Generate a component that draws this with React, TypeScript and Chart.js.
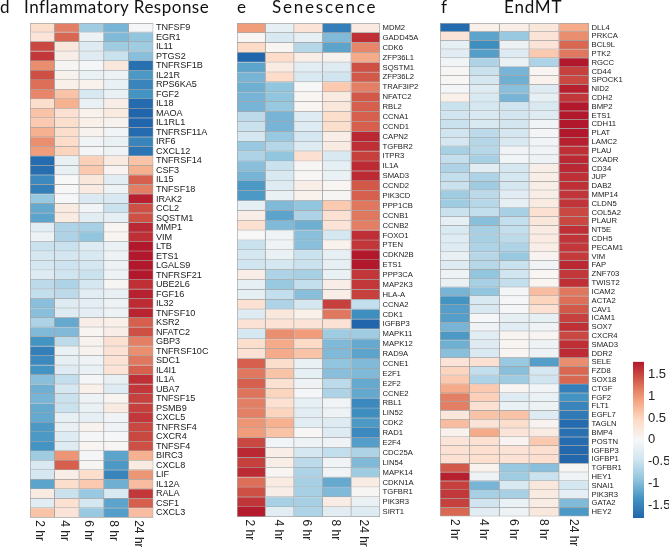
import React, { useEffect, useRef } from "react";
import { Chart, registerables } from "chart.js";

Chart.register(...registerables);

const timePoints = ["2 hr", "4 hr", "6 hr", "8 hr", "24 hr"];
const colorTicks = [1.5, 1, 0.5, 0, -0.5, -1, -1.5];
const colorRange = [-1.8, 1.8];
const paletteStops = ["#2166AC", "#4393C3", "#92C5DE", "#D1E5F0", "#F7F7F7", "#FDDBC7", "#F4A582", "#D6604D", "#B2182B"];

const inflammatoryGenes = ["TNFSF9","EGR1","IL11","PTGS2","TNFRSF1B","IL21R","RPS6KA5","FGF2","IL18","MAOA","IL1RL1","TNFRSF11A","IRF6","CXCL12","TNFRSF14","CSF3","IL15","TNFSF18","IRAK2","CCL2","SQSTM1","MMP1","VIM","LTB","ETS1","LGALS9","TNFRSF21","UBE2L6","FGF16","IL32","TNFSF10","KSR2","NFATC2","GBP3","TNFRSF10C","SDC1","IL4I1","IL1A","UBA7","TNFSF15","PSMB9","CXCL5","TNFRSF4","CXCR4","TNFSF4","BIRC3","CXCL8","LIF","IL12A","RALA","CSF1","CXCL3"];
const inflammatoryValues = [
[0.4,1.15,-0.8,-1.05,-0.03],[0.3,1.3,-0.12,-1,-0.9],[1.5,0.25,-0.3,-0.8,-0.8],[1.6,0.15,-0.3,-0.5,-0.95],
[1.05,0.03,-0.05,0.25,-1.7],[1.45,0.1,-0.15,-0.12,-1.3],[1.25,0.12,0.1,-0.15,-1.5],[1.1,0.65,-0.35,-0.15,-1.35],
[0.4,0.8,-0.15,0.15,-1.75],[0.65,0.35,0.1,0.2,-1.8],[0.6,0.4,0.12,0.08,-1.8],[0.8,0.4,0.08,-0.07,-1.75],
[1.05,0.42,-0.08,-0.15,-1.5],[0.95,0.5,-0.05,-0.1,-1.65],[-1.75,-0.18,0.55,0.2,0.65],[-1.72,-0.18,0.6,0.07,0.8],
[-1.45,0,0.25,-0.25,1.35],[-1.55,0,0.2,-0.12,1.15],[-0.85,-0.03,-0.33,-0.35,1.75],[-1.15,0.2,-0.08,-0.5,1.45],
[-1.2,0.2,-0.25,-0.2,1.45],[-0.25,-0.7,-0.75,0.05,1.7],[-0.12,-0.7,-0.9,0.05,1.65],[-0.5,-0.5,-0.3,-0.15,1.8],
[-0.4,-0.42,-0.35,-0.12,1.8],[-0.4,-0.48,-0.4,-0.12,1.8],[-0.3,-0.45,-0.5,-0.12,1.8],[-0.6,-0.7,-0.4,0.03,1.65],
[-0.55,-0.6,-0.25,-0.18,1.75],[-0.95,-0.3,-0.22,-0.12,1.68],[-0.95,-0.3,-0.22,-0.12,1.72],[-0.7,-1.15,0.15,0.12,1.35],
[-1,-1,0.05,0.15,1.45],[-1.35,-0.6,0.08,0.35,1.15],[-1.55,-0.15,0.08,0.33,1.05],[-1.45,-0.2,-0.1,0.33,1.2],
[-1.35,-0.3,-0.15,0.3,1.35],[-0.95,-0.55,-0.05,-0.18,1.65],[-1.1,-0.4,0.12,-0.3,1.6],[-1.05,-0.5,-0.12,0.05,1.55],
[-1.15,-0.5,-0.15,0.2,1.55],[-1.15,-0.2,-0.2,-0.1,1.6],[-1.3,-0.18,0.08,-0.1,1.5],[-1.3,-0.3,-0.05,-0.03,1.5],
[-1.35,-0.3,0.05,0.03,1.45],[-0.8,1,-0.05,-1.2,0.8],[-0.35,1.35,0.03,-1.3,0.2],[-0.4,0.15,0.4,-1.5,1],
[-1.2,0.4,0.6,-1.1,0.7],[0.2,-0.5,-0.85,-0.35,1.6],[-0.25,0.35,-0.4,-1.2,1.35],[0.65,0.3,-0.85,-1.25,0.7],
];

const senescenceGenes = ["MDM2","GADD45A","CDK6","ZFP36L1","SQSTM1","ZFP36L2","TRAF3IP2","NFATC2","RBL2","CCNA1","CCND1","CAPN2","TGFBR2","ITPR3","IL1A","SMAD3","CCND2","PIK3CD","PPP1CB","CCNB1","CCNB2","FOXO1","PTEN","CDKN2B","ETS1","PPP3CA","MAP2K3","HLA-A","CCNA2","CDK1","IGFBP3","MAPK11","MAPK12","RAD9A","CCNE1","E2F1","E2F2","CCNE2","RBL1","LIN52","CDK2","RAD1","E2F4","CDC25A","LIN54","MAPK14","CDKN1A","TGFBR1","PIK3R3","SIRT1"];
const senescenceValues = [
[0.95,-0.2,0.3,-1.55,0.22],[0.05,-0.35,-0.2,-1,1.65],[0.45,0.05,-0.65,-1.2,1.1],[-1.8,0.42,0.15,0.08,0.85],
[-1.2,0.2,-0.25,-0.3,1.45],[-1.05,0.42,-0.35,-0.45,1.4],[-1.1,-0.9,0,0.6,1.15],[-1.05,-0.9,0.05,0.2,1.4],
[-1.05,-0.85,0.05,0.25,1.35],[-0.6,-1.05,-0.3,0.4,1.35],[-0.5,-1.05,-0.3,0.4,1.35],[-0.4,-0.85,-0.4,0.15,1.7],
[-0.85,-0.65,-0.3,0.2,1.65],[-0.7,-0.9,0.35,-0.35,1.55],[-0.95,-0.5,0.03,-0.2,1.68],[-1.05,-0.35,0.02,-0.15,1.68],
[-1.3,-0.3,0.15,0.05,1.4],[-1.3,-0.15,0.1,0.03,1.35],[-0.2,-1,-0.9,0.6,1.2],[0.15,-1.2,-0.7,0.35,1.2],
[0.35,-1,-1.1,0.3,1.15],[0,-0.1,-0.95,-0.4,1.65],[-0.5,-0.1,-0.95,0.1,1.6],[-0.4,-0.15,-0.5,-0.2,1.8],
[-0.45,-0.4,-0.5,-0.2,1.8],[0.15,-0.7,-0.75,-0.15,1.6],[-0.2,-0.85,-0.55,0.15,1.6],[-0.2,-0.55,-0.95,0.15,1.55],
[0.35,-0.7,-0.4,1.55,-0.55],[-0.3,0.25,0.12,1.2,-1.4],[0.33,0.33,0.3,0.33,-1.8],[-0.4,1.05,0.95,-0.8,-0.8],
[0.4,0.85,0.45,-1,-1.15],[0.33,0.85,0.65,-1,-1.2],[1.35,0.4,-0.15,-0.9,-1],[1.2,0.65,-0.2,-0.95,-1],
[1.35,0.35,-0.1,-0.6,-1.15],[1.22,0.5,-0.05,-0.7,-1.15],[1.15,0.35,-0.2,-0.07,-1.45],[1.15,0.5,-0.25,-0.12,-1.4],
[1,0.8,-0.25,-0.3,-1.3],[0.95,0.65,0.02,-0.3,-1.45],[1.5,-0.07,-0.12,-0.1,-1.25],[1.7,0.15,-0.4,-0.55,-0.7],
[1.55,0.15,-0.6,-0.07,-1],[1.68,0.05,-0.7,-0.07,-0.8],[1.25,0.2,-0.75,-1.15,0.18],[1.45,0.15,-0.75,-1,0.03],
[1.62,-0.75,-0.75,0.18,-0.15],[1.78,-0.25,-0.7,-0.25,-0.3],
];

const endmtGenes = ["DLL4","PRKCA","BCL9L","PTK2","RGCC","CD44","SPOCK1","NID2","CDH2","BMP2","ETS1","CDH11","PLAT","LAMC2","PLAU","CXADR","CD34","JUP","DAB2","MMP14","CLDN5","COL5A2","PLAUR","NT5E","CDH5","PECAM1","VIM","FAP","ZNF703","TWIST2","ICAM2","ACTA2","CAV1","ICAM1","SOX7","CXCR4","SMAD3","DDR2","SELE","FZD8","SOX18","CTGF","FGF2","FLT1","EGFL7","TAGLN","BMP4","POSTN","IGFBP3","IGFBP1","TGFBR1","HEY1","SNAI1","PIK3R3","GATA2","HEY2"];
const endmtValues = [
[-1.75,0.12,0.15,0.25,0.85],[0.3,-1.2,-0.85,0.3,1.05],[-0.2,-1.4,-0.12,0.3,1.3],[-0.25,-1.25,-0.3,0.6,1.2],
[-0.07,-0.7,-0.15,-0.7,1.8],[0.03,-0.5,-1.05,0.05,1.55],[0.02,-0.4,-1.1,0.1,1.5],[-0.05,-0.3,-0.95,-0.3,1.75],
[0.12,-0.35,-1.05,-0.2,1.6],[-0.5,-0.4,-0.45,-0.35,1.8],[-0.45,-0.35,-0.42,-0.3,1.8],[-0.5,-0.35,-0.42,-0.07,1.8],
[-0.45,-0.6,-0.4,-0.05,1.8],[-0.4,-0.65,-0.35,-0.08,1.75],[-0.75,-0.65,-0.1,-0.1,1.65],[-0.55,-0.75,-0.08,-0.12,1.7],
[-0.7,-0.25,-0.4,0.15,1.7],[-0.55,-0.7,-0.4,0.15,1.65],[-0.5,-0.8,-0.4,0.15,1.65],[-0.8,-0.6,-0.25,0.15,1.62],
[-0.8,-0.65,-0.2,0.2,1.62],[-0.5,-0.55,-0.75,0.35,1.5],[-0.2,-0.95,-0.55,0.25,1.5],[-0.35,-0.75,-0.55,0.2,1.65],
[-0.3,-0.75,-0.6,0.2,1.62],[-0.3,-0.7,-0.7,0.15,1.6],[-0.18,-0.65,-0.85,0.07,1.58],[-0.3,-0.65,-0.5,-0.07,1.7],
[-0.12,-0.9,-0.45,0.04,1.6],[-0.15,-0.75,-0.55,0.05,1.65],[-1.05,-0.9,-0.05,0.7,1.2],[-1.35,-0.35,-0.05,0.5,1.25],
[-1.25,-0.35,-0.05,0.35,1.4],[-1.25,-0.03,-0.2,-0.2,1.55],[-1.05,-0.1,-0.25,-0.1,1.65],[-1.3,-0.25,0.05,0.05,1.5],
[-1.1,-0.3,0.05,-0.12,1.65],[-0.95,-0.35,0.05,-0.12,1.68],[0.3,0.35,-0.85,-1.25,1.05],[0.5,-0.55,-0.95,-0.4,1.3],
[0.6,-0.7,-0.8,-0.45,1.3],[0.85,0.6,0.05,-0.08,-1.55],[1.15,0.55,-0.3,-0.15,-1.35],[1.15,0.35,-0.15,-0.12,-1.5],
[0.25,0.65,0.65,-0.3,-1.6],[0.7,0.3,0.4,0.07,-1.75],[0.1,0.85,0.3,0.2,-1.7],[0.3,0.35,0.07,0.6,-1.75],
[0.35,0.38,0.33,0.38,-1.78],[0.35,0.38,0.33,0.38,-1.78],[1.4,0.1,-0.85,-0.95,0.03],[1.75,-0.12,-0.8,-0.5,-0.1],
[1.55,-1.05,-0.35,0.25,-0.4],[1.6,-0.75,-0.75,0.2,-0.2],[1.55,-0.45,-0.15,0.18,-1],[1.3,-0.25,-0.12,0.25,-1.3],
];

const panels = [
  { genes: inflammatoryGenes, values: inflammatoryValues, left: 0, width: 232, plotLeft: 30, plotRight: 153.4, top: 23, bottom: 517.7, font: 9.1, labelShift: -3 },
  { genes: senescenceGenes, values: senescenceValues, left: 232, width: 205, plotLeft: 5, plotRight: 148, top: 23, bottom: 517, font: 7.7, labelShift: -2 },
  { genes: endmtGenes, values: endmtValues, left: 437, width: 190, plotLeft: 3, plotRight: 152, top: 23, bottom: 516.5, font: 7.7, labelShift: -1 },
];

const titles = [
  { text: "d", x: 0, spacing: 0 },
  { text: "Inflammatory Response", x: 24, spacing: 0.5 },
  { text: "e", x: 237, spacing: 0 },
  { text: "Senescence", x: 272, spacing: 1.8 },
  { text: "f", x: 441, spacing: 0 },
  { text: "EndMT", x: 504, spacing: 0.8 },
];

function hexToRgb(h: string) {
  return [1, 3, 5].map((i) => parseInt(h.slice(i, i + 2), 16));
}

function colorFor(v: number) {
  const t = (Math.max(colorRange[0], Math.min(colorRange[1], v)) - colorRange[0]) / (colorRange[1] - colorRange[0]);
  const p = t * (paletteStops.length - 1);
  const i = Math.min(paletteStops.length - 2, Math.floor(p));
  const a = hexToRgb(paletteStops[i]);
  const b = hexToRgb(paletteStops[i + 1]);
  const f = p - i;
  const c = a.map((x, k) => Math.round(x + (b[k] - x) * f));
  return `rgb(${c[0]},${c[1]},${c[2]})`;
}

const columnLabels = (shift: number) => ({
  id: "columnLabels",
  afterDraw(chart: any) {
    const { ctx, scales, chartArea } = chart;
    ctx.save();
    ctx.fillStyle = "#222";
    ctx.font = "12px 'Liberation Sans'";
    ctx.textAlign = "left";
    ctx.textBaseline = "middle";
    timePoints.forEach((t, i) => {
      ctx.save();
      ctx.translate(scales.x.getPixelForValue(i + 0.5) + shift, chartArea.bottom + 2.5);
      ctx.rotate(Math.PI / 2);
      ctx.fillText(t, 0, 0);
      ctx.restore();
    });
    ctx.restore();
  },
});

export default function App() {
  const canvases = useRef<(HTMLCanvasElement | null)[]>([]);
  const barCanvas = useRef<HTMLCanvasElement | null>(null);

  useEffect(() => {
    const charts: Chart[] = panels.map((p, idx) => {
      const canvas = canvases.current[idx] as HTMLCanvasElement;
      const axisWidth = p.width - p.plotRight;
      return new Chart(canvas, {
        type: "bar",
        data: {
          labels: p.genes,
          datasets: timePoints.map((t, c) => ({
            label: t,
            data: p.values.map(() => 1),
            backgroundColor: p.values.map((r) => colorFor(r[c])),
            borderColor: "#a6a6a6",
            borderSkipped: false,
            borderWidth: (ctx: any) => ({
              top: ctx.dataIndex === 0 ? 1 : 0,
              left: ctx.datasetIndex === 0 ? 1 : 0,
              right: 1,
              bottom: 1,
            }),
            barPercentage: 1,
            categoryPercentage: 1,
          })),
        },
        options: {
          indexAxis: "y",
          responsive: false,
          animation: false,
          layout: { padding: { left: p.plotLeft, top: p.top, bottom: 547 - p.bottom, right: 0 } },
          plugins: { legend: { display: false }, tooltip: { enabled: false } },
          scales: {
            x: { display: false, stacked: true, min: 0, max: timePoints.length },
            y: {
              position: "right",
              stacked: true,
              grid: { display: false, drawTicks: false },
              border: { display: false },
              afterFit: (s: any) => { s.width = axisWidth; },
              ticks: {
                autoSkip: false,
                padding: 2.5,
                color: "#222",
                font: { family: "'Liberation Sans'", size: p.font },
              },
            },
          },
        },
        plugins: [columnLabels(p.labelShift)],
      } as any);
    });

    const gradientFill = (ctx: any) => {
      const area = ctx.chart.chartArea;
      if (!area) return "#f7f7f7";
      const g = ctx.chart.ctx.createLinearGradient(0, area.bottom, 0, area.top);
      paletteStops.forEach((c, i) => g.addColorStop(i / (paletteStops.length - 1), c));
      return g;
    };

    charts.push(
      new Chart(barCanvas.current as HTMLCanvasElement, {
        type: "bar",
        data: {
          labels: ["scale"],
          datasets: [{
            data: [colorRange],
            backgroundColor: gradientFill,
            borderWidth: 0,
            barPercentage: 1,
            categoryPercentage: 1,
          }],
        },
        options: {
          responsive: false,
          animation: false,
          layout: { padding: { left: 3, top: 6, bottom: 29, right: 0 } },
          plugins: { legend: { display: false }, tooltip: { enabled: false } },
          scales: {
            x: { display: false },
            y: {
              position: "right",
              min: colorRange[0],
              max: colorRange[1],
              grid: { display: false, drawTicks: false },
              border: { display: false },
              afterFit: (s: any) => { s.width = 25; },
              afterBuildTicks: (s: any) => { s.ticks = colorTicks.map((value) => ({ value })); },
              ticks: {
                autoSkip: false,
                padding: 4,
                color: "#222",
                font: { family: "'Liberation Sans'", size: 13 },
                callback: (v: any) => String(v),
              },
            },
          },
        },
      } as any)
    );

    return () => charts.forEach((c) => c.destroy());
  }, []);

  return (
    <div style={{ position: "absolute", left: 0, top: 0, width: 669, height: 547, overflow: "hidden", background: "#fff" }}>
      {panels.map((p, i) => (
        <canvas
          key={i}
          ref={(el) => { canvases.current[i] = el; }}
          width={p.width}
          height={547}
          style={{ position: "absolute", left: p.left, top: 0, display: "block" }}
        />
      ))}
      <canvas
        ref={barCanvas}
        width={39}
        height={197}
        style={{ position: "absolute", left: 630, top: 350, display: "block" }}
      />
      {titles.map((t) => (
        <div
          key={t.text}
          style={{ position: "absolute", left: t.x, top: -5, fontFamily: "Lato", fontSize: 17, letterSpacing: t.spacing, lineHeight: "24px", color: "#111", whiteSpace: "nowrap" }}
        >
          {t.text}
        </div>
      ))}
    </div>
  );
}
